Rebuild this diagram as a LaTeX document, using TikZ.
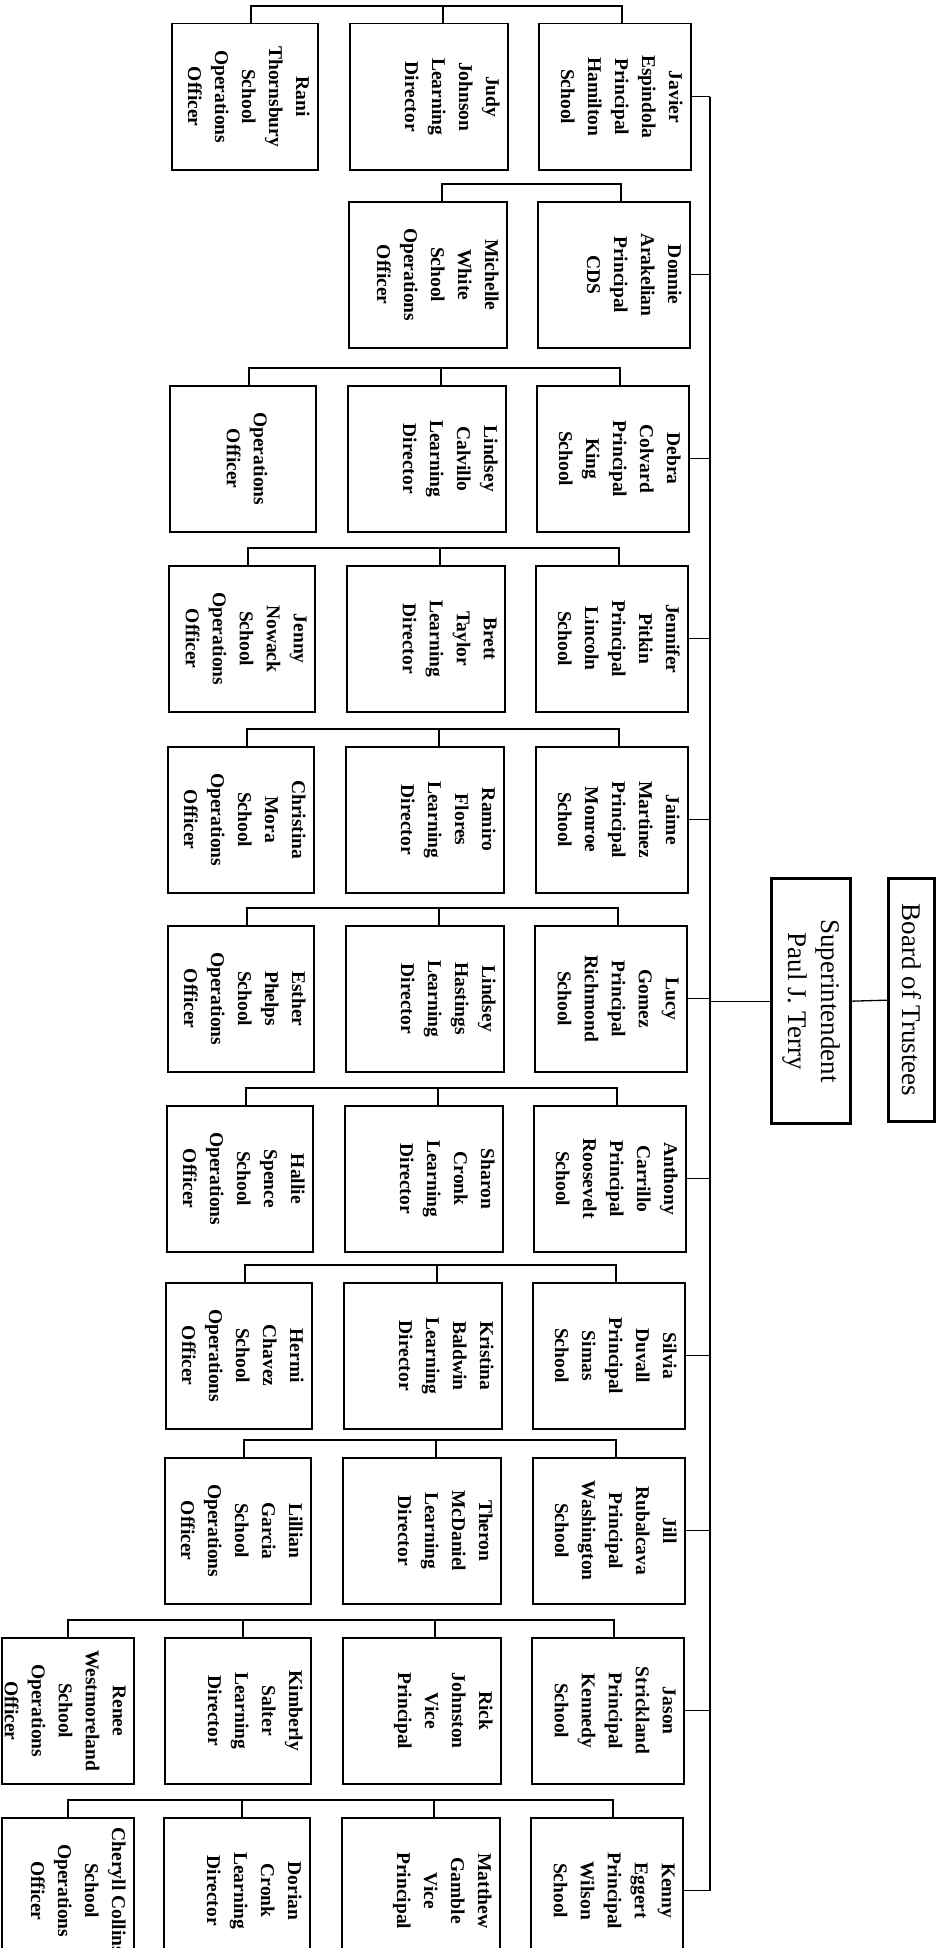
\documentclass[tikz,border=0pt]{standalone}
\usepackage{fontspec}
\usepackage{graphicx}
\setmainfont{Liberation Serif}
\usetikzlibrary{calc}

% text of a staff box: a top-aligned, centred paragraph turned to read downwards
\newcommand\vlines[2]{\rotatebox{-90}{\parbox[c][#1][t]{134pt}{\vspace*{2pt}\centering #2}}}
\newcommand\boxfont{\bfseries\fontsize{19.5}{27}\selectfont}
\newcommand\headfont{\fontsize{27}{33}\selectfont}

\begin{document}
\begin{tikzpicture}[x=1pt,y=-1pt,
  unit/.style={draw, line width=1.5pt, inner sep=6pt, anchor=north west, font=\boxfont},
  head/.style={draw, line width=3.3pt, inner sep=0pt, anchor=north west, font=\headfont},
  link/.style={line width=1.3pt}]

\fill[white] (0,0) rectangle (936,1948);
\useasboundingbox (0,0) rectangle (936,1948);

% governing board and superintendent
\node[head, minimum width=46pt, minimum height=243pt] (board) at (887,877)
  {\rotatebox{-90}{Board of Trustees}};
\node[head, minimum width=79pt, minimum height=245pt] (sup) at (770,877)
  {\rotatebox{-90}{\parbox{220pt}{\centering Superintendent\\Paul J. Terry}}};

\coordinate (spine) at (710,0);

% row 1
\node[unit] (p1) at (538,23) {\vlines{140pt}{Javier\\Espindola\\Principal\\Hamilton\\School}};
\node[unit] (l1) at (349,23) {\vlines{146pt}{Judy\\Johnson\\Learning\\Director}};
\node[unit] (o1) at (171,23) {\vlines{134pt}{Rani\\Thornsbury\\School\\Operations\\Officer}};
% row 2
\node[unit] (p2) at (537,201) {\vlines{140pt}{Donnie\\Arakelian\\Principal\\CDS}};
\node[unit] (l2) at (348,201) {\vlines{146pt}{Michelle\\White\\School\\Operations\\Officer}};
% row 3
\node[unit] (p3) at (536,385) {\vlines{140pt}{Debra\\Colvard\\Principal\\King\\School}};
\node[unit] (l3) at (347,385) {\vlines{146pt}{Lindsey\\Calvillo\\Learning\\Director}};
\node[unit] (o3) at (169,385) {\vlines{134pt}{~\\~\\Operations\\Officer}};
% row 4
\node[unit] (p4) at (535,565) {\vlines{140pt}{Jennifer\\Pitkin\\Principal\\Lincoln\\School}};
\node[unit] (l4) at (346,565) {\vlines{146pt}{Brett\\Taylor\\Learning\\Director}};
\node[unit] (o4) at (168,565) {\vlines{134pt}{Jenny\\Nowack\\School\\Operations\\Officer}};
% row 5
\node[unit] (p5) at (535,746) {\vlines{140pt}{Jaime\\Martinez\\Principal\\Monroe\\School}};
\node[unit] (l5) at (345,746) {\vlines{146pt}{Ramiro\\Flores\\Learning\\Director}};
\node[unit] (o5) at (167,746) {\vlines{134pt}{Christina\\Mora\\School\\Operations\\Officer}};
% row 6
\node[unit] (p6) at (534,925) {\vlines{140pt}{Lucy\\Gomez\\Principal\\Richmond\\School}};
\node[unit] (l6) at (345,925) {\vlines{146pt}{Lindsey\\Hastings\\Learning\\Director}};
\node[unit] (o6) at (167,925) {\vlines{134pt}{Esther\\Phelps\\School\\Operations\\Officer}};
% row 7
\node[unit] (p7) at (533,1105) {\vlines{140pt}{Anthony\\Carrillo\\Principal\\Roosevelt\\School}};
\node[unit] (l7) at (344,1105) {\vlines{146pt}{Sharon\\Cronk\\Learning\\Director}};
\node[unit] (o7) at (166,1105) {\vlines{134pt}{Hallie\\Spence\\School\\Operations\\Officer}};
% row 8
\node[unit] (p8) at (532,1282) {\vlines{140pt}{Silvia\\Duvall\\Principal\\Simas\\School}};
\node[unit] (l8) at (343,1282) {\vlines{146pt}{Kristina\\Baldwin\\Learning\\Director}};
\node[unit] (o8) at (165,1282) {\vlines{134pt}{Hermi\\Chavez\\School\\Operations\\Officer}};
% row 9
\node[unit] (p9) at (532,1457) {\vlines{140pt}{Jill\\Rubalcava\\Principal\\Washington\\School}};
\node[unit] (l9) at (342,1457) {\vlines{146pt}{Theron\\McDaniel\\Learning\\Director}};
\node[unit] (o9) at (164,1457) {\vlines{134pt}{Lillian\\Garcia\\School\\Operations\\Officer}};
% row 10
\node[unit] (p10) at (531,1637) {\vlines{140pt}{Jason\\Strickland\\Principal\\Kennedy\\School}};
\node[unit] (l10) at (342,1637) {\vlines{146pt}{Rick\\Johnston\\Vice\\Principal}};
\node[unit] (o10) at (164,1637) {\vlines{134pt}{Kimberly\\Salter\\Learning\\Director}};
\node[unit] (e10) at (1,1637) {\vlines{120pt}{Renee\\Westmoreland\\School\\Operations\\Officer}};
% row 11
\node[unit] (p11) at (530,1817) {\vlines{140pt}{Kenny\\Eggert\\Principal\\Wilson\\School}};
\node[unit] (l11) at (341,1817) {\vlines{146pt}{Matthew\\Gamble\\Vice\\Principal}};
\node[unit] (o11) at (163,1817) {\vlines{134pt}{Dorian\\Cronk\\Learning\\Director}};
\node[unit] (e11) at (1,1817) {\vlines{120pt}{Cheryll Collins\\School\\Operations\\Officer}};

% spine linking the principals to the superintendent
\draw[link] (p1.east -| spine) -- (p11.east -| spine);
\foreach \r in {1,...,11}{
  \draw[link] (p\r.east) -- (p\r.east -| spine);
}
\draw[link] (sup.west) -- (sup.west -| spine);
\draw[link] (board.west) -- (sup.east);

% brackets over each school's staff
\foreach \r in {1,3,4,5,6,7,8,9}{
  \draw[link] ($(o\r.north west)+(80,0)$) -- ++(0,-17) -| ($(p\r.north west)+(84,0)$);
  \draw[link] ($(l\r.north west)+(94,0)$) -- ++(0,-17);
}
\draw[link] ($(l2.north west)+(94,0)$) -- ++(0,-17) -| ($(p2.north west)+(84,0)$);
\foreach \r in {10,11}{
  \draw[link] ($(e\r.north west)+(67,0)$) -- ++(0,-17) -| ($(p\r.north west)+(83,0)$);
  \draw[link] ($(o\r.north west)+(79,0)$) -- ++(0,-17);
  \draw[link] ($(l\r.north west)+(93,0)$) -- ++(0,-17);
}
\end{tikzpicture}
\end{document}
